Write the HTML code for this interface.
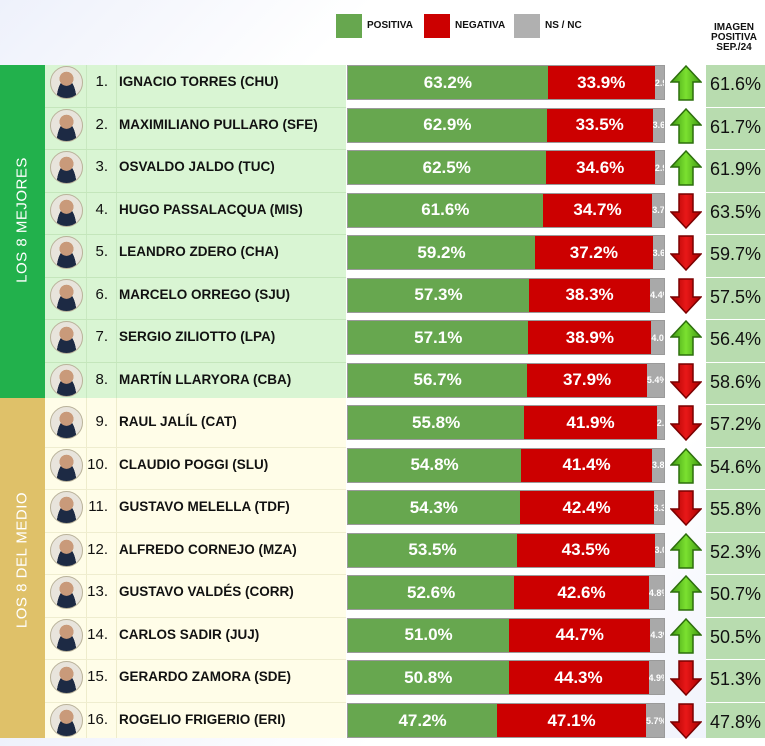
<!DOCTYPE html>
<html><head><meta charset="utf-8"><style>
*{margin:0;padding:0;box-sizing:border-box}
body{width:765px;height:738px;position:relative;overflow:hidden;background:linear-gradient(135deg,#eef1fb 0,#fff 25%,#fff 75%,#eef1fb 100%);font-family:"Liberation Sans",sans-serif}
.lg{position:absolute;top:14px;width:26px;height:24px}
.lt{position:absolute;top:20px;font-size:10px;font-weight:bold;color:#111}
.band{position:absolute;left:0;width:45px}
.vt{position:absolute;left:22px;transform:translate(-50%,-50%) rotate(-90deg);white-space:nowrap;color:#fff;font-size:15px;letter-spacing:0.5px}
.panel{position:absolute;left:45px;width:301px}
.row{position:absolute;left:0;width:765px;height:42.5px}
.rl{position:absolute;left:45px;top:-1px;width:301px;height:1px;background:#c4e6bb}
.y .rl{background:#efedcf}
.ph{position:absolute;left:50px;top:1px;width:33px;height:33px;border-radius:50%;border:1.5px solid #b9b29a;background:radial-gradient(circle at 50% 38%,#c99a7a 0 28%,transparent 29%),radial-gradient(ellipse at 50% 110%,#1d2a44 0 45%,transparent 46%),#e8e4dc}
.num{position:absolute;left:86px;width:22px;top:8px;text-align:right;font-size:15px;color:#111}
.nm{position:absolute;left:119px;top:9px;font-size:13.5px;font-weight:bold;color:#111}
.bar{position:absolute;left:347px;top:0;width:318px;height:35px;display:flex;border:1px solid #9a9a9a}
.g{background:#67a74f;color:#fff;font-size:17px;font-weight:bold;display:flex;align-items:center;justify-content:center}
.r{background:#cc0000;color:#fff;font-size:17px;font-weight:bold;display:flex;align-items:center;justify-content:center}
.n{background:#a9a9a9;flex:1;color:#fff;font-size:9px;font-weight:bold;display:flex;align-items:center;overflow:hidden;white-space:nowrap}
.ar{position:absolute;left:670px;top:0}
.ip{position:absolute;left:706px;width:59px;top:0;height:41.5px;background:#b8dcaf;font-size:18px;color:#111;padding:9px 0 0 4px}
</style></head><body>
<div class="lg" style="left:336px;background:#67a74f"></div><div class="lt" style="left:367px">POSITIVA</div>
<div class="lg" style="left:424px;background:#cc0000"></div><div class="lt" style="left:455px">NEGATIVA</div>
<div class="lg" style="left:514px;background:#b0b0b0"></div><div class="lt" style="left:545px">NS / NC</div>
<div style="position:absolute;left:703px;top:23px;width:62px;text-align:center;font-size:10px;font-weight:bold;line-height:10px;color:#111">IMAGEN<br>POSITIVA<br>SEP./24</div>
<div class="band" style="top:65px;height:333px;background:#22b14c"><div class="vt" style="top:155px">LOS 8 MEJORES</div></div>
<div class="band" style="top:398px;height:340px;background:#dfc169"><div class="vt" style="top:162px">LOS 8 DEL MEDIO</div></div>
<div class="panel" style="top:65px;height:333px;background:#d9f5d3"><div style="position:absolute;left:41px;top:0;width:1px;height:333px;background:#c8e8c0"></div><div style="position:absolute;left:71px;top:0;width:1px;height:333px;background:#c8e8c0"></div></div>
<div class="panel" style="top:398px;height:340px;background:#fffde8"><div style="position:absolute;left:41px;top:0;width:1px;height:340px;background:#eeeccc"></div><div style="position:absolute;left:71px;top:0;width:1px;height:340px;background:#eeeccc"></div></div>
<div style="position:absolute;left:706px;top:62px;width:59px;height:676px;background:#fff"></div>
<svg width="0" height="0" style="position:absolute"><defs>
<linearGradient id="gu" x1="0" y1="0" x2="1" y2="0"><stop offset="0" stop-color="#3f9a12"/><stop offset=".5" stop-color="#7be030"/><stop offset="1" stop-color="#3f9a12"/></linearGradient>
<linearGradient id="rd" x1="0" y1="0" x2="1" y2="0"><stop offset="0" stop-color="#a80000"/><stop offset=".5" stop-color="#e81818"/><stop offset="1" stop-color="#a80000"/></linearGradient>
<symbol id="up" viewBox="0 0 32 36"><path d="M16 1 L31 17 L23 17 L23 35 L9 35 L9 17 L1 17 Z" fill="url(#gu)" stroke="#2c6e0c" stroke-width="1.5"/></symbol>
<symbol id="dn" viewBox="0 0 32 36"><path d="M16 35 L31 19 L23 19 L23 1 L9 1 L9 19 L1 19 Z" fill="url(#rd)" stroke="#7a0000" stroke-width="1.5"/></symbol>
</defs></svg>

<div class="row" style="top:65px"><div class="ph"></div><div class="num">1.</div><div class="nm">IGNACIO TORRES (CHU)</div><div class="bar"><div class="g" style="width:63.2%">63.2%</div><div class="r" style="width:33.9%">33.9%</div><div class="n">2.9%</div></div><svg class="ar" width="32" height="36"><use href="#up"/></svg><div class="ip">61.6%</div></div>
<div class="row" style="top:107.5px"><div class="rl"></div><div class="ph"></div><div class="num">2.</div><div class="nm">MAXIMILIANO PULLARO (SFE)</div><div class="bar"><div class="g" style="width:62.9%">62.9%</div><div class="r" style="width:33.5%">33.5%</div><div class="n">3.6%</div></div><svg class="ar" width="32" height="36"><use href="#up"/></svg><div class="ip">61.7%</div></div>
<div class="row" style="top:150px"><div class="rl"></div><div class="ph"></div><div class="num">3.</div><div class="nm">OSVALDO JALDO (TUC)</div><div class="bar"><div class="g" style="width:62.5%">62.5%</div><div class="r" style="width:34.6%">34.6%</div><div class="n">2.9%</div></div><svg class="ar" width="32" height="36"><use href="#up"/></svg><div class="ip">61.9%</div></div>
<div class="row" style="top:192.6px"><div class="rl"></div><div class="ph"></div><div class="num">4.</div><div class="nm">HUGO PASSALACQUA (MIS)</div><div class="bar"><div class="g" style="width:61.6%">61.6%</div><div class="r" style="width:34.7%">34.7%</div><div class="n">3.7%</div></div><svg class="ar" width="32" height="36"><use href="#dn"/></svg><div class="ip">63.5%</div></div>
<div class="row" style="top:235.1px"><div class="rl"></div><div class="ph"></div><div class="num">5.</div><div class="nm">LEANDRO ZDERO (CHA)</div><div class="bar"><div class="g" style="width:59.2%">59.2%</div><div class="r" style="width:37.2%">37.2%</div><div class="n">3.6%</div></div><svg class="ar" width="32" height="36"><use href="#dn"/></svg><div class="ip">59.7%</div></div>
<div class="row" style="top:277.6px"><div class="rl"></div><div class="ph"></div><div class="num">6.</div><div class="nm">MARCELO ORREGO (SJU)</div><div class="bar"><div class="g" style="width:57.3%">57.3%</div><div class="r" style="width:38.3%">38.3%</div><div class="n">4.4%</div></div><svg class="ar" width="32" height="36"><use href="#dn"/></svg><div class="ip">57.5%</div></div>
<div class="row" style="top:320.2px"><div class="rl"></div><div class="ph"></div><div class="num">7.</div><div class="nm">SERGIO ZILIOTTO (LPA)</div><div class="bar"><div class="g" style="width:57.1%">57.1%</div><div class="r" style="width:38.9%">38.9%</div><div class="n">4.0%</div></div><svg class="ar" width="32" height="36"><use href="#up"/></svg><div class="ip">56.4%</div></div>
<div class="row" style="top:362.7px"><div class="rl"></div><div class="ph"></div><div class="num">8.</div><div class="nm">MARTÍN LLARYORA (CBA)</div><div class="bar"><div class="g" style="width:56.7%">56.7%</div><div class="r" style="width:37.9%">37.9%</div><div class="n">5.4%</div></div><svg class="ar" width="32" height="36"><use href="#dn"/></svg><div class="ip">58.6%</div></div>
<div class="row" style="top:405.2px"><div class="ph"></div><div class="num">9.</div><div class="nm">RAUL JALÍL (CAT)</div><div class="bar"><div class="g" style="width:55.8%">55.8%</div><div class="r" style="width:41.9%">41.9%</div><div class="n">2.3%</div></div><svg class="ar" width="32" height="36"><use href="#dn"/></svg><div class="ip">57.2%</div></div>
<div class="row y" style="top:447.8px"><div class="rl"></div><div class="ph"></div><div class="num">10.</div><div class="nm">CLAUDIO POGGI (SLU)</div><div class="bar"><div class="g" style="width:54.8%">54.8%</div><div class="r" style="width:41.4%">41.4%</div><div class="n">3.8%</div></div><svg class="ar" width="32" height="36"><use href="#up"/></svg><div class="ip">54.6%</div></div>
<div class="row y" style="top:490.3px"><div class="rl"></div><div class="ph"></div><div class="num">11.</div><div class="nm">GUSTAVO MELELLA (TDF)</div><div class="bar"><div class="g" style="width:54.3%">54.3%</div><div class="r" style="width:42.4%">42.4%</div><div class="n">3.3%</div></div><svg class="ar" width="32" height="36"><use href="#dn"/></svg><div class="ip">55.8%</div></div>
<div class="row y" style="top:532.8px"><div class="rl"></div><div class="ph"></div><div class="num">12.</div><div class="nm">ALFREDO CORNEJO (MZA)</div><div class="bar"><div class="g" style="width:53.5%">53.5%</div><div class="r" style="width:43.5%">43.5%</div><div class="n">3.0%</div></div><svg class="ar" width="32" height="36"><use href="#up"/></svg><div class="ip">52.3%</div></div>
<div class="row y" style="top:575.4px"><div class="rl"></div><div class="ph"></div><div class="num">13.</div><div class="nm">GUSTAVO VALDÉS (CORR)</div><div class="bar"><div class="g" style="width:52.6%">52.6%</div><div class="r" style="width:42.6%">42.6%</div><div class="n">4.8%</div></div><svg class="ar" width="32" height="36"><use href="#up"/></svg><div class="ip">50.7%</div></div>
<div class="row y" style="top:617.9px"><div class="rl"></div><div class="ph"></div><div class="num">14.</div><div class="nm">CARLOS SADIR (JUJ)</div><div class="bar"><div class="g" style="width:51.0%">51.0%</div><div class="r" style="width:44.7%">44.7%</div><div class="n">4.3%</div></div><svg class="ar" width="32" height="36"><use href="#up"/></svg><div class="ip">50.5%</div></div>
<div class="row y" style="top:660.4px"><div class="rl"></div><div class="ph"></div><div class="num">15.</div><div class="nm">GERARDO ZAMORA (SDE)</div><div class="bar"><div class="g" style="width:50.8%">50.8%</div><div class="r" style="width:44.3%">44.3%</div><div class="n">4.9%</div></div><svg class="ar" width="32" height="36"><use href="#dn"/></svg><div class="ip">51.3%</div></div>
<div class="row y" style="top:703px"><div class="rl"></div><div class="ph"></div><div class="num">16.</div><div class="nm">ROGELIO FRIGERIO (ERI)</div><div class="bar"><div class="g" style="width:47.2%">47.2%</div><div class="r" style="width:47.1%">47.1%</div><div class="n">5.7%</div></div><svg class="ar" width="32" height="36"><use href="#dn"/></svg><div class="ip" style="height:35px">47.8%</div></div>
</body></html>
